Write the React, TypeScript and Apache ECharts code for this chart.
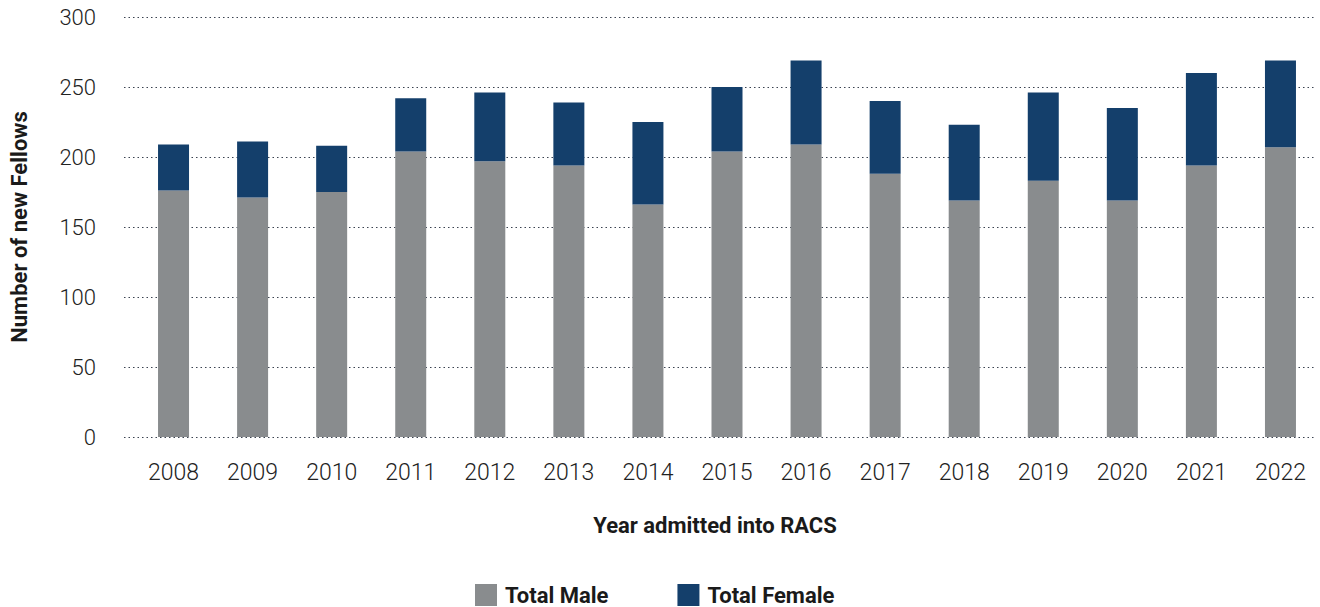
import React, { useEffect, useRef } from "react";
import * as echarts from "echarts";

const years = ["2008", "2009", "2010", "2011", "2012", "2013", "2014", "2015", "2016", "2017", "2018", "2019", "2020", "2021", "2022"];
const totalMale = [176, 171, 175, 204, 197, 194, 166, 204, 209, 188, 169, 183, 169, 194, 207];
const totalFemale = [33, 40, 33, 38, 49, 45, 59, 46, 60, 52, 54, 63, 66, 66, 62];
const yTicks = { min: 0, max: 300, interval: 50 };

const FONT = "Roboto, 'Noto Sans', sans-serif";

export default function App() {
  const ref = useRef<HTMLDivElement>(null);
  useEffect(() => {
    if (!ref.current) return;
    const chart = echarts.init(ref.current, undefined, { renderer: "svg" });
    chart.setOption({
      animation: false,
      backgroundColor: "#ffffff",
      grid: [
        { left: 124, right: 4, top: 17, bottom: 170, containLabel: false },
        { left: 132, right: -5, top: 17, bottom: 170, containLabel: false },
      ],
      legend: {
        bottom: -4,
        left: 470,
        itemWidth: 22,
        itemHeight: 22,
        itemGap: 69,
        icon: "rect",
        textStyle: { fontFamily: FONT, fontSize: 22, fontWeight: "bold", color: "#1a1a1a", padding: [0, 0, 0, 3] },
        data: ["Total Male", "Total Female"],
      },
      xAxis: [
        {
          type: "category",
          gridIndex: 0,
          data: years,
          show: false,
        },
        {
          type: "category",
          gridIndex: 1,
          data: years,
          name: "Year admitted into RACS",
          nameLocation: "middle",
          nameGap: 77,
          nameTextStyle: { fontFamily: FONT, fontSize: 22, fontWeight: "bold", color: "#1a1a1a", padding: [0, 24, 0, 0] },
          axisLine: { show: false },
          axisTick: { show: false },
          axisLabel: { fontFamily: FONT, fontSize: 23, fontWeight: 300, color: "#222", margin: 24 },
        },
      ],
      yAxis: [
        {
          type: "value",
          gridIndex: 0,
          min: yTicks.min,
          max: yTicks.max,
          interval: yTicks.interval,
          axisLine: { show: false },
          axisTick: { show: false },
          axisLabel: { show: false },
          splitLine: { show: true, lineStyle: { type: [1.5, 3], color: "#3a4250", width: 1.2 } },
        },
        {
          type: "value",
          gridIndex: 1,
          min: yTicks.min,
          max: yTicks.max,
          interval: yTicks.interval,
          name: "Number of new Fellows",
          nameLocation: "middle",
          nameGap: 104,
          nameTextStyle: { fontFamily: FONT, fontSize: 22, fontWeight: "bold", color: "#1a1a1a" },
          axisLine: { show: false },
          axisTick: { show: false },
          axisLabel: { fontFamily: FONT, fontSize: 22, fontWeight: 300, color: "#222", margin: 38 },
          splitLine: { show: false },
        },
      ],
      series: [
        {
          name: "Total Male",
          type: "bar",
          stack: "total",
          xAxisIndex: 1,
          yAxisIndex: 1,
          data: totalMale,
          barWidth: 31,
          itemStyle: { color: "#898c8e" },
        },
        {
          name: "Total Female",
          type: "bar",
          stack: "total",
          xAxisIndex: 1,
          yAxisIndex: 1,
          data: totalFemale,
          barWidth: 31,
          itemStyle: { color: "#143f6b" },
        },
      ],
    });
    return () => chart.dispose();
  }, []);
  return <div ref={ref} style={{ position: "fixed", left: 0, top: 0, width: 1320, height: 607 }} />;
}
